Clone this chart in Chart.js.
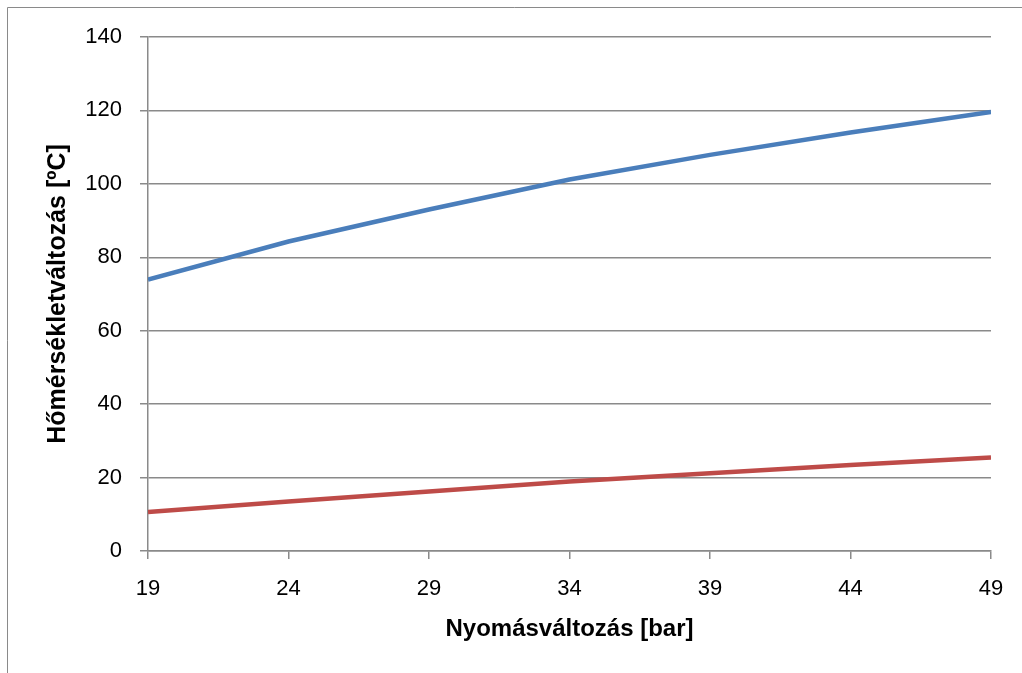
<!DOCTYPE html>
<html>
<head>
<meta charset="utf-8">
<script src="https://cdn.jsdelivr.net/npm/chart.js@4/dist/chart.umd.min.js"></script>
<style>
  html, body { margin: 0; padding: 0; background: #fff; }
  #wrap { width: 1022px; height: 673px; position: relative; }
</style>
</head>
<body>
<div id="wrap"><canvas id="chart"></canvas></div>
<script>
// pressure change [bar]
const pressure = [19, 24, 29, 34, 39, 44, 49];
// temperature change [ºC]
const blueSeries = [73.9, 84.3, 93.0, 101.2, 107.9, 114.0, 119.6];
const redSeries = [10.6, 13.5, 16.2, 18.9, 21.2, 23.4, 25.5];
const xTitle = 'Nyomásváltozás [bar]';
const yTitle = 'Hőmérsékletváltozás [ºC]';

const axisGray = '#8a8a8a';
const font = 'Liberation Sans, Arial, sans-serif';

// outer chart frame (only top and left edges are visible in the crop)
const framePlugin = {
  id: 'frame',
  beforeDraw(chart) {
    const ctx = chart.ctx;
    ctx.save();
    ctx.strokeStyle = axisGray;
    ctx.lineWidth = 1;
    ctx.beginPath();
    ctx.moveTo(7.5, chart.height);
    ctx.lineTo(7.5, 7.5);
    ctx.lineTo(chart.width, 7.5);
    ctx.stroke();
    ctx.restore();
  }
};

const toPoints = vals => vals.map((v, i) => ({ x: pressure[i], y: v }));

new Chart(document.getElementById('chart'), {
  type: 'line',
  data: {
    datasets: [
      {
        data: toPoints(blueSeries),
        borderColor: '#4A7EBB',
        borderWidth: 4.5,
        pointRadius: 0,
        tension: 0
      },
      {
        data: toPoints(redSeries),
        borderColor: '#BE4B48',
        borderWidth: 4.5,
        pointRadius: 0,
        tension: 0
      }
    ]
  },
  options: {
    animation: false,
    responsive: true,
    maintainAspectRatio: false,
    layout: { padding: { left: 0, top: 37, right: 31, bottom: 0 } },
    plugins: {
      legend: { display: false },
      tooltip: { enabled: false }
    },
    scales: {
      x: {
        type: 'linear',
        min: 19,
        max: 49,
        afterFit(scale) { scale.height = 122; },
        ticks: {
          stepSize: 5,
          color: '#000',
          padding: 17,
          font: { family: font, size: 22 }
        },
        grid: {
          drawOnChartArea: false,
          drawTicks: true,
          tickLength: 8,
          color: axisGray,
          lineWidth: 1.5
        },
        border: { display: true, color: axisGray, width: 1.5 },
        title: {
          display: true,
          text: xTitle,
          color: '#000',
          padding: { top: 0, bottom: 29 },
          font: { family: font, size: 24, weight: 'bold' }
        }
      },
      y: {
        min: 0,
        max: 140,
        afterFit(scale) { scale.width = 148; },
        ticks: {
          stepSize: 20,
          color: '#000',
          padding: 18,
          font: { family: font, size: 22 }
        },
        grid: {
          drawTicks: true,
          tickLength: 8,
          color: axisGray,
          lineWidth: 1.5
        },
        border: { display: true, color: axisGray, width: 1.5 },
        title: {
          display: true,
          text: yTitle,
          color: '#000',
          padding: { top: 43, bottom: 0 },
          font: { family: font, size: 25, weight: 'bold' }
        }
      }
    }
  },
  plugins: [framePlugin]
});
</script>
</body>
</html>
